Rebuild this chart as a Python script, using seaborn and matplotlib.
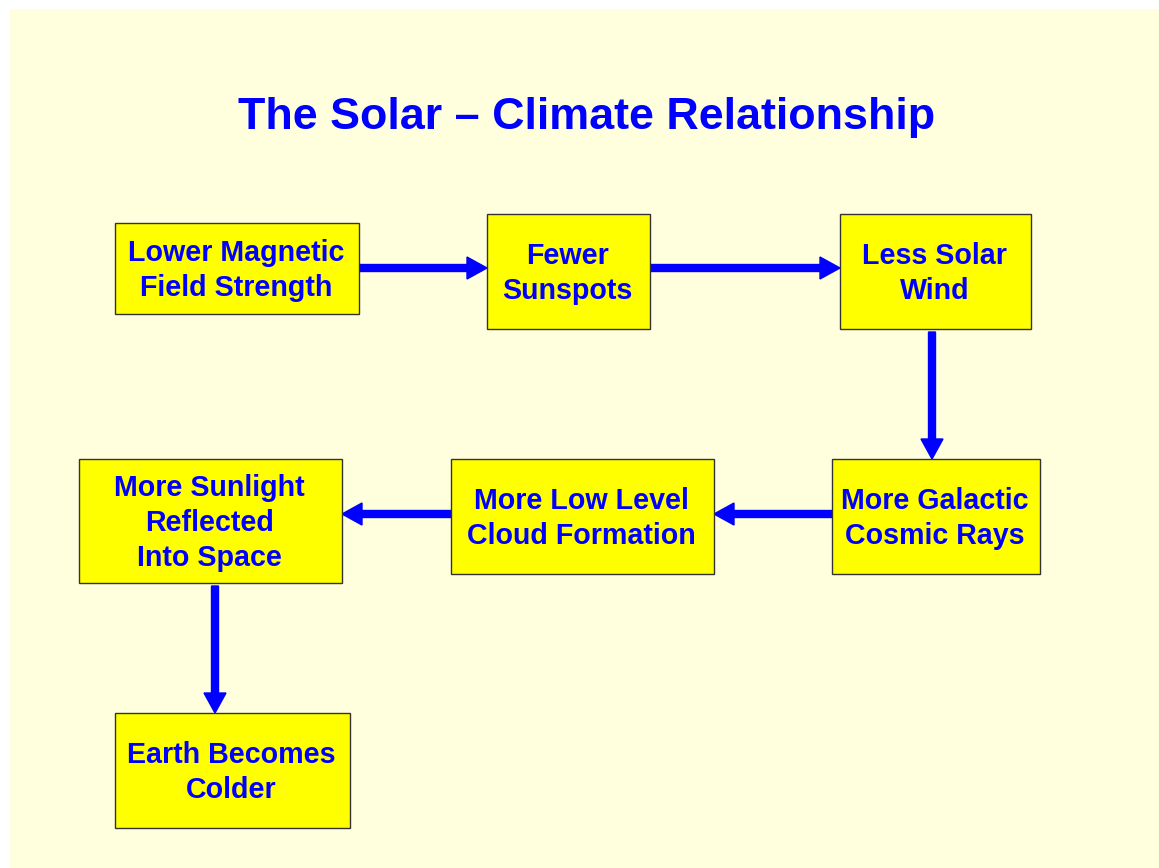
import matplotlib
matplotlib.use("Agg")
import matplotlib.pyplot as plt
import seaborn as sns
from matplotlib.patches import Rectangle, FancyArrow

sns.set_style("white")
plt.rcParams['font.family'] = ['Liberation Sans', 'DejaVu Sans']

# flowchart content
title = "The Solar \u2013 Climate Relationship"
steps = [
    "Lower Magnetic\nField Strength",
    "Fewer\nSunspots",
    "Less Solar\nWind",
    "More Galactic\nCosmic Rays",
    "More Low Level\nCloud Formation",
    "More Sunlight\nReflected\nInto Space",
    "Earth Becomes\nColder",
]
# links between steps (from, to)
links = [(0, 1), (1, 2), (2, 3), (3, 4), (4, 5), (5, 6)]

# layout in pixel units (left, top, right, bottom)
box_left = [115, 487, 840, 832, 451, 79, 115]
box_top = [223, 214, 214, 459, 459, 459, 713]
box_right = [359, 650, 1031, 1040, 714, 342, 350]
box_bottom = [314, 329, 329, 574, 574, 583, 828]
link_shift = [-0.5, -3.5, -3.5, -2.5, -2.5, 4.5]

BG = "#FFFFDD"
BOX = "#FFFF00"
BLUE = "#0000FF"

fig = plt.figure(figsize=(11.59, 8.68), dpi=100)
fig.patch.set_facecolor("white")
ax = fig.add_axes([0, 0, 1, 1])
ax.set_xlim(0, 1159)
ax.set_ylim(868, 0)
ax.axis("off")

# slide background
ax.add_patch(Rectangle((10, 9), 1159, 868, facecolor=BG, edgecolor="none", zorder=0))

ax.text(587, 117, title, ha="center", va="center", fontsize=32.3,
        fontweight="bold", color=BLUE)

for i, lab in enumerate(steps):
    x0, y0, x1, y1 = box_left[i], box_top[i], box_right[i], box_bottom[i]
    ax.add_patch(Rectangle((x0, y0), x1 - x0, y1 - y0, facecolor=BOX,
                           edgecolor="#333333", linewidth=1, zorder=2))
    ax.text((x0 + x1) / 2 - 1, (y0 + y1) / 2 + 2, lab, ha="center", va="center",
            fontsize=20.6, fontweight="bold", color=BLUE, linespacing=1.32, zorder=3)

for k, (a, b) in enumerate(links):
    ca = ((box_left[a] + box_right[a]) / 2, (box_top[a] + box_bottom[a]) / 2)
    cb = ((box_left[b] + box_right[b]) / 2, (box_top[b] + box_bottom[b]) / 2)
    if abs(box_top[a] - box_top[b]) < 20:
        # horizontal link
        y = ca[1] + link_shift[k]
        if cb[0] > ca[0]:
            xs, xe = box_right[a], box_left[b]
        else:
            xs, xe = box_left[a], box_right[b]
        ar = FancyArrow(xs, y, xe - xs, 0, width=7, head_width=22, head_length=20,
                        length_includes_head=True, color=BLUE, zorder=1)
    else:
        # vertical link
        x = ca[0] + link_shift[k]
        ys, ye = box_bottom[a] + 3, box_top[b]
        ar = FancyArrow(x, ys, 0, ye - ys, width=7, head_width=22, head_length=20,
                        length_includes_head=True, color=BLUE, zorder=1)
    ax.add_patch(ar)

plt.savefig("out.png", dpi=100, facecolor="white")
